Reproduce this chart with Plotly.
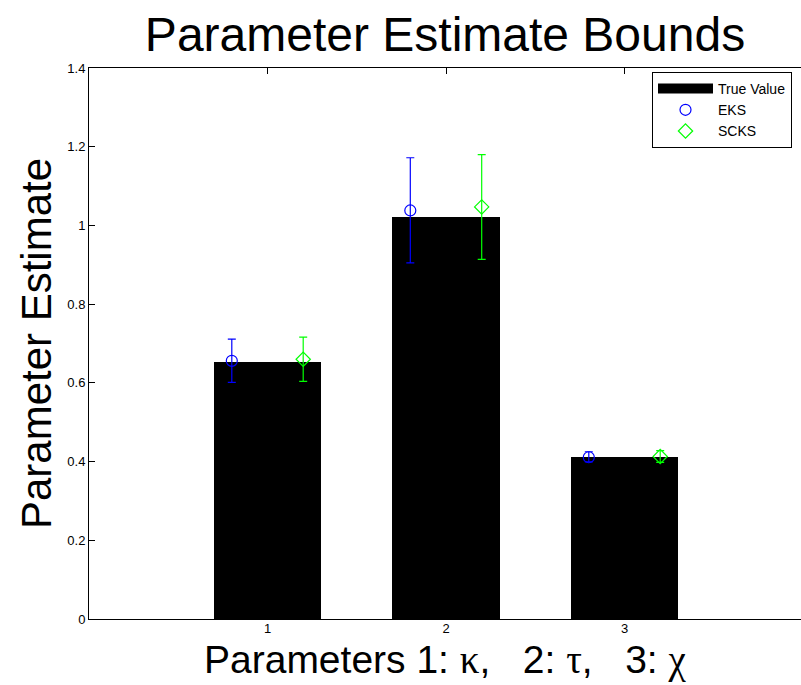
import plotly.graph_objects as go

# ---- data ----
params = [1, 2, 3]
tick_labels = ["1", "2", "3"]
true_values = [0.652, 1.022, 0.411]
eks_mean = [0.656, 1.038, 0.411]
eks_upper = [0.711, 1.172, 0.425]
eks_lower = [0.601, 0.905, 0.399]
scks_mean = [0.660, 1.047, 0.413]
scks_upper = [0.716, 1.180, 0.428]
scks_lower = [0.604, 0.914, 0.398]

OFFSET = 0.2
SANS = "Liberation Sans, Arial, sans-serif"

fig = go.Figure()

fig.add_trace(go.Bar(
    x=params, y=true_values, width=0.6,
    marker=dict(color="black", line=dict(width=0)),
    showlegend=False, name="True Value",
))
# legend proxy for bars (wide black rectangle)
fig.add_trace(go.Scatter(
    x=[None], y=[None], mode="lines", name="True Value",
    line=dict(color="black", width=14),
))

fig.add_trace(go.Scatter(
    x=[p - OFFSET for p in params], y=eks_mean, mode="markers", name="EKS",
    marker=dict(symbol="circle-open", size=11, color="#0000ff", line=dict(width=1.2)),
    error_y=dict(type="data", symmetric=False,
                 array=[u - m for u, m in zip(eks_upper, eks_mean)],
                 arrayminus=[m - l for m, l in zip(eks_mean, eks_lower)],
                 color="#0000ff", thickness=1.2, width=4),
))
fig.add_trace(go.Scatter(
    x=[p + OFFSET for p in params], y=scks_mean, mode="markers", name="SCKS",
    marker=dict(symbol="diamond-open", size=11, color="#00ff00", line=dict(width=1.2)),
    error_y=dict(type="data", symmetric=False,
                 array=[u - m for u, m in zip(scks_upper, scks_mean)],
                 arrayminus=[m - l for m, l in zip(scks_mean, scks_lower)],
                 color="#00ff00", thickness=1.2, width=4),
))

sp = "\u00a0"
gk = lambda c: '<span style="font-family:Liberation Serif, DejaVu Serif, serif">' + c + '</span>'
xtitle = "Parameters 1: " + gk("κ") + "," + sp * 3 + "2: " + gk("τ") + "," + sp * 3 + "3: " + gk("χ")

fig.update_layout(
    width=801, height=685,
    margin=dict(l=89, r=0, t=68, b=66),
    paper_bgcolor="white", plot_bgcolor="white",
    bargap=0,
    font=dict(family=SANS, color="black", size=13),
    title=dict(text="Parameter Estimate Bounds", x=0.5, xref="paper",
               y=1 - 34 / 685, yref="container", yanchor="middle", xanchor="center",
               font=dict(family=SANS, size=48, color="black")),
    xaxis=dict(range=[0, 712 / 178.5], tickvals=params, ticktext=tick_labels,
               showgrid=False, zeroline=False, showline=True, linecolor="black", linewidth=1,
               mirror="ticks", ticks="inside", ticklen=6, tickcolor="black",
               tickfont=dict(size=13), ticklabelstandoff=-3),
    yaxis=dict(range=[0, 1.4], dtick=0.2, showgrid=False, zeroline=False,
               showline=True, linecolor="black", linewidth=1,
               ticks="inside", ticklen=6, tickcolor="black", tickfont=dict(size=13),
               title=dict(text="Parameter Estimate", font=dict(family=SANS, size=42), standoff=2)),
    yaxis2=dict(range=[0, 1.4], dtick=0.2, overlaying="y", side="right", anchor="x",
                showgrid=False, zeroline=False, showline=False, ticks="inside",
                ticklen=6, tickcolor="black", showticklabels=False),
    legend=dict(x=(652 - 89) / 712, y=(619 - 72) / 551, xanchor="left", yanchor="top",
                bordercolor="black", borderwidth=1, bgcolor="white",
                font=dict(family=SANS, size=14, color="black"),
                itemwidth=55, tracegroupgap=0, traceorder="normal"),
    annotations=[dict(text=xtitle, xref="paper", yref="paper", x=0.5,
                      y=(619 - 660) / 551, xanchor="center", yanchor="middle",
                      showarrow=False, font=dict(family=SANS, size=39, color="black"))],
)

fig.write_html("out.html")
